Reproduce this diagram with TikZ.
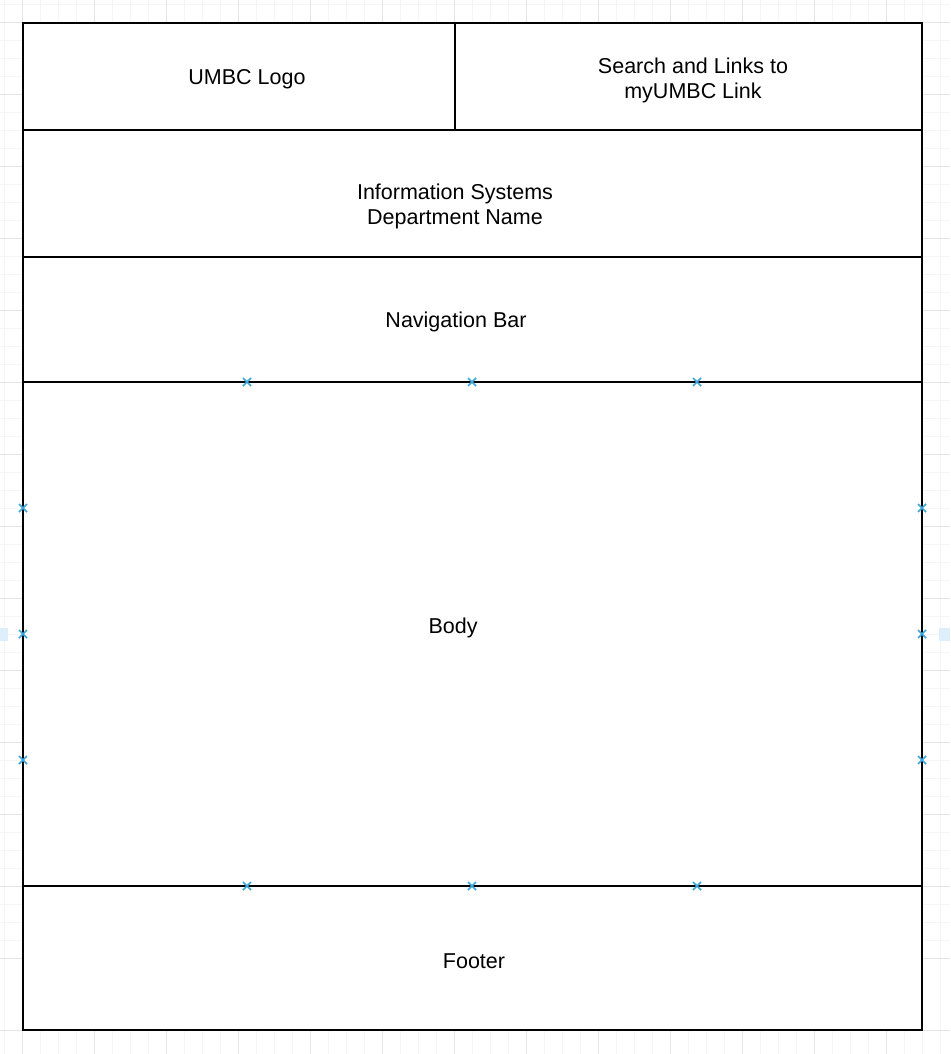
\documentclass[tikz,border=0pt]{standalone}
\usepackage{fontspec}
\setmainfont{Liberation Sans}
\definecolor{handleblue}{HTML}{36A9E1}
\definecolor{paleblue}{HTML}{DDEFFB}
\begin{document}
\begin{tikzpicture}[
	x=1pt, y=-1pt,
	every node/.style={font=\fontsize{21.5}{25}\selectfont, align=center},
	panel/.style={shape=rectangle, draw=black, fill=white, line width=1.8pt, inner sep=0pt, outer sep=0pt, anchor=north west},
	minorline/.style={draw=black!4, line width=1pt},
	majorline/.style={draw=black!10, line width=1pt},
	handle/.style={draw=handleblue, line width=1.6pt},
	stub/.style={fill=paleblue, draw=none},
]
\useasboundingbox (0,0) rectangle (950,1054);
\fill[white] (0,0) rectangle (950,1054);

% background grid
\foreach \i in {0,...,52} {
	\draw[minorline] ({4.7+18*\i},0) -- ({4.7+18*\i},1054);
	\draw[minorline] (0,{4.7+18*\i}) -- (950,{4.7+18*\i});
}
\foreach \i in {0,...,14} {
	\draw[majorline] ({22.7+72*\i},0) -- ({22.7+72*\i},1054);
	\draw[majorline] (0,{22.7+72*\i}) -- (950,{22.7+72*\i});
}
\fill[stub] (0,628) rectangle (8,641);
\fill[stub] (939,628) rectangle (950,641);

% page layout
\node[panel, minimum width=432pt, minimum height=107pt] (logo) at (23,23) {};
\node[panel, minimum width=467pt, minimum height=107pt] (search) at (455,23) {};
\node[panel, minimum width=899pt, minimum height=127pt] (dept) at (23,130) {};
\node[panel, minimum width=899pt, minimum height=125pt] (nav) at (23,257) {};
\node[panel, minimum width=899pt, minimum height=504pt] (body) at (23,382) {};
\node[panel, minimum width=899pt, minimum height=144pt] (footer) at (23,886) {};

\node (logotext) at (247,79) {UMBC Logo};
\node (searchtext) at (693,80) {Search and Links to\\myUMBC Link};
\node (depttext) at (455,206) {Information Systems\\Department Name};
\node (navtext) at (456,322) {Navigation Bar};
\node (bodytext) at (453,628) {Body};
\node (footertext) at (474,961) {Footer};

% connection points
\foreach \px/\py in {247/382, 472/382, 697/382, 247/886, 472/886, 697/886,
	23/508, 23/634, 23/760, 922/508, 922/634, 922/760} {
	\draw[handle] ({\px-4},{\py-4}) -- ({\px+4},{\py+4});
	\draw[handle] ({\px-4},{\py+4}) -- ({\px+4},{\py-4});
}
\end{tikzpicture}
\end{document}
